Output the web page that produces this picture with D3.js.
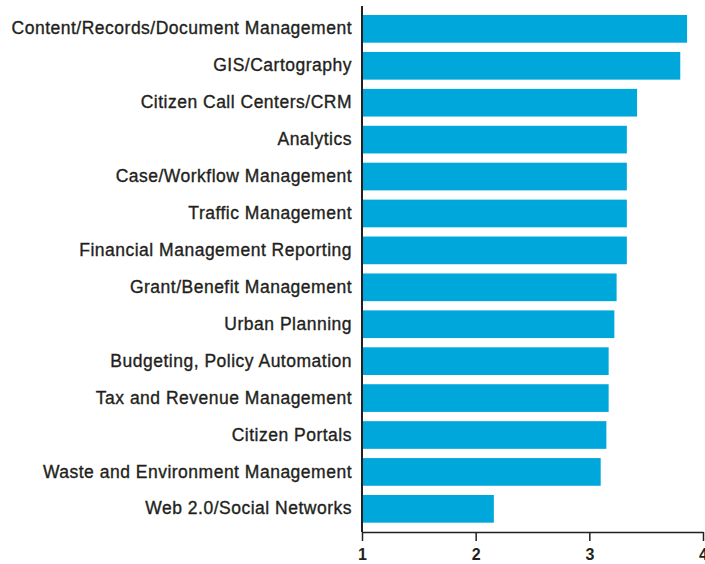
<!DOCTYPE html>
<html>
<head>
<meta charset="utf-8">
<script src="https://cdn.jsdelivr.net/npm/d3@7"></script>
<style>
    body { margin: 0; background: #fff; }
    svg { display: block; }
    .cat text { font-family: "Liberation Sans", Arial, sans-serif; font-size: 17.5px; letter-spacing: 0.5px; fill: #231f20; stroke: #231f20; stroke-width: 0.35px; }
    .x text { font-family: "Liberation Sans", Arial, sans-serif; font-size: 16px; font-weight: bold; fill: #231f20; }
</style>
</head>
<body>
<script>
// categories top to bottom
const categories = [
    "Content/Records/Document Management",
    "GIS/Cartography",
    "Citizen Call Centers/CRM",
    "Analytics",
    "Case/Workflow Management",
    "Traffic Management",
    "Financial Management Reporting",
    "Grant/Benefit Management",
    "Urban Planning",
    "Budgeting, Policy Automation",
    "Tax and Revenue Management",
    "Citizen Portals",
    "Waste and Environment Management",
    "Web 2.0/Social Networks"
];
const values = [3.86, 3.80, 3.42, 3.33, 3.33, 3.33, 3.33, 3.24, 3.22, 3.17, 3.17, 3.15, 3.10, 2.16];
const xTicks = [1, 2, 3, 4];

const width = 705, height = 564;
const axisY = 532;

const svg = d3.select("body").append("svg")
    .attr("width", width)
    .attr("height", height);

const x = d3.scaleLinear()
    .domain([1, 4])
    .range([362, 703]);

const y = d3.scaleBand()
    .domain(categories)
    .range([10.4, 527.3])
    .paddingInner(0.25)
    .paddingOuter(0.125);

// bars
svg.append("g")
    .selectAll("rect")
    .data(values)
    .join("rect")
    .attr("x", x(1))
    .attr("y", (d, i) => y(categories[i]))
    .attr("width", d => x(d) - x(1))
    .attr("height", y.bandwidth())
    .attr("fill", "#00a7db");

// category labels
const yAxis = svg.append("g")
    .attr("class", "cat")
    .attr("transform", "translate(" + x(1) + ",0)")
    .call(d3.axisLeft(y).tickSize(0).tickPadding(10));
yAxis.select(".domain").remove();

// vertical axis line
svg.append("line")
    .attr("x1", x(1)).attr("x2", x(1))
    .attr("y1", 6).attr("y2", axisY)
    .attr("stroke", "#231f20")
    .attr("stroke-width", 2);

// x axis
const xAxis = svg.append("g")
    .attr("class", "x")
    .attr("transform", "translate(0," + axisY + ")")
    .call(d3.axisBottom(x).tickValues(xTicks).tickFormat(d3.format("d")).tickSize(9).tickSizeOuter(0).tickPadding(8));
xAxis.select(".domain").attr("stroke", "#231f20").attr("stroke-width", 1.5);
xAxis.selectAll(".tick line").attr("stroke", "#231f20").attr("stroke-width", 1.5);
</script>
</body>
</html>
